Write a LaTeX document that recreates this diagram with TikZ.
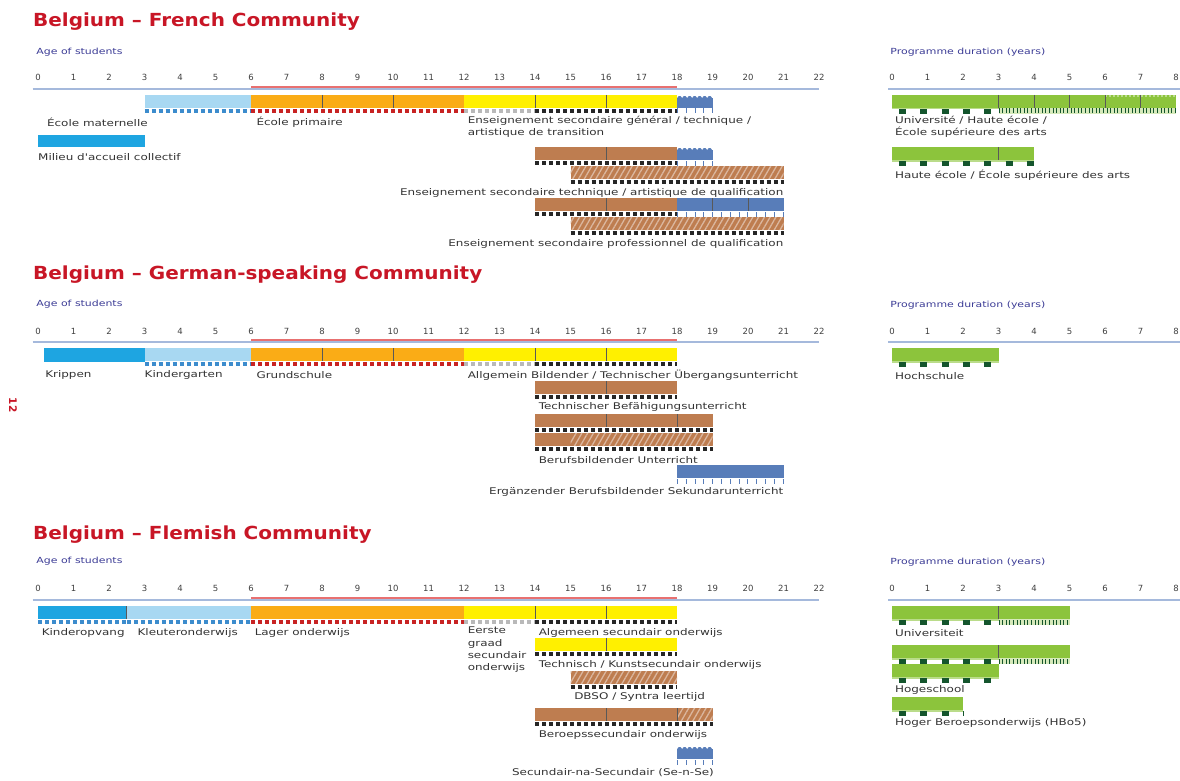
\documentclass[tikz,border=0pt]{standalone}
\usepackage{fontspec}
\setmainfont{DejaVu Sans}
\newfontfamily\lblfont[FakeStretch=1.3]{DejaVu Sans}
\newfontfamily\ttlfont[FakeStretch=1.11]{DejaVu Sans}
\usetikzlibrary{patterns.meta}

\definecolor{titlered}{RGB}{200,22,38}
\definecolor{axblue}{RGB}{60,60,150}
\definecolor{axline}{RGB}{165,185,220}
\definecolor{axred}{RGB}{232,112,112}
\definecolor{cribblue}{RGB}{30,165,225}
\definecolor{kgblue}{RGB}{168,216,242}
\definecolor{kgsq}{RGB}{60,140,205}
\definecolor{primorange}{RGB}{250,172,22}
\definecolor{primsq}{RGB}{200,35,35}
\definecolor{secyellow}{RGB}{255,240,0}
\definecolor{vocbrown}{RGB}{190,125,80}
\definecolor{postblue}{RGB}{88,125,185}
\definecolor{unigreen}{RGB}{140,196,60}
\definecolor{darkgreen}{RGB}{20,85,45}

% bar body, strips (x1, x2, top y, colour)
\newcommand{\barbody}[4]{\fill[#4] (#1,#3) rectangle (#2,#3+13);}
\newcommand{\hatchbody}[4]{\fill[#4] (#1,#3) rectangle (#2,#3+13);
  \fill[pattern={Lines[angle=60,distance=5pt,line width=1.3pt]}, pattern color=#4!55!white]
    (#1,#3) rectangle (#2,#3+13);}
\newcommand{\postbody}[3]{\fill[postblue] (#1,#3+3) rectangle (#2,#3+13);
  \draw[postblue, line width=3.5pt, line cap=round, dash pattern=on 1.2pt off 3.8pt]
    ([xshift=2pt]#1,#3+2.5) -- ([xshift=-2pt]#2,#3+2.5);}
\newcommand{\sqstrip}[4]{\fill[white] (#1,#3+13) rectangle (#2,#3+19);
  \draw[#4, line width=4.5pt, dash pattern=on 4pt off 3pt] (#1,#3+16) -- (#2,#3+16);}
\newcommand{\tkstrip}[4]{\fill[white] (#1,#3+13) rectangle (#2,#3+19);
  \draw[#4, line width=5pt, dash pattern=on 0.9pt off 7.9pt] (#1,#3+16) -- (#2,#3+16);}
\newcommand{\gsqstrip}[3]{\fill[white] (#1,#3+13) rectangle (#2,#3+19);
  \fill[unigreen!60!white] (#1,#3+13) rectangle (#2,#3+14.5);
  \draw[darkgreen, line width=5pt, dash pattern=on 7pt off 14.3pt, dash phase=-7pt]
    (#1,#3+16.3) -- (#2,#3+16.3);}
\newcommand{\gtkstrip}[3]{\fill[unigreen!35!white] (#1,#3+13) rectangle (#2,#3+19);
  \draw[darkgreen, line width=5pt, dash pattern=on 1pt off 2.6pt] (#1,#3+16) -- (#2,#3+16);}

\begin{document}
\begin{tikzpicture}[x=1pt, y=-1pt,
    title/.style={font=\ttlfont\fontsize{18}{20}\selectfont\bfseries, text=titlered, anchor=west, inner sep=0},
    axlab/.style={font=\lblfont\fontsize{8.4}{9}\selectfont, text=axblue, anchor=west, inner sep=0},
    num/.style={font=\fontsize{8.5}{9}\selectfont, text=black!75, inner sep=0},
    lbl/.style={font=\lblfont\fontsize{9.2}{12.3}\selectfont, text=black!80, anchor=west, inner sep=0, align=left},
    axl/.style={axline, line width=1.2pt},
    axr/.style={axred, line width=1.6pt},
    divl/.style={black!65, line width=0.6pt},
  ]
  \useasboundingbox (0,0) rectangle (1180,781);
  \fill[white] (0,0) rectangle (1180,781);

  \node[rotate=-90, text=titlered, font=\bfseries\fontsize{10.5}{11}\selectfont] (pgno) at (13,405) {12};

  % ===== French Community =====
  \node[title] (frtitle) at (33,22) {Belgium – French Community};
  \begin{scope}[xshift=38pt, x=35.5pt]
    \node[axlab] (frage) at (-0.05,52) {Age of students};
    \foreach \n in {0,...,22} \node[num] (frn\n) at (\n,77) {\n};
    \draw[axl] (-0.15,89) -- (22,89);
    \draw[axr] (6,87) -- (18,87);
    % main row
    \barbody{3}{6}{95}{kgblue} \sqstrip{3}{6}{95}{kgsq}
    \barbody{6}{12}{95}{primorange} \sqstrip{6}{12}{95}{primsq}
    \barbody{12}{18}{95}{secyellow} \sqstrip{12}{14}{95}{gray!55} \sqstrip{14}{18}{95}{black!85}
    \postbody{18}{19}{95} \tkstrip{18}{19}{95}{postblue}
    \draw[divl] (8,95) -- (8,108) (10,95) -- (10,108) (14,95) -- (14,108) (16,95) -- (16,108);
    \node[lbl] (frmat) at (0.25,122) {École maternelle};
    \node[lbl] (frprim) at (6.15,122) {École primaire};
    \node[lbl, anchor=north west] (frgen) at (12.1,116) {Enseignement secondaire général / technique /\\artistique de transition};
    \fill[cribblue] (0,135) rectangle (3,147);
    \node[lbl] (frmil) at (0,157) {Milieu d'accueil collectif};
    % technical / artistic
    \barbody{14}{18}{147}{vocbrown} \sqstrip{14}{18}{147}{black!85}
    \postbody{18}{19}{147} \tkstrip{18}{19}{147}{postblue}
    \draw[divl] (16,147) -- (16,160);
    \hatchbody{15}{21}{166}{vocbrown} \sqstrip{15}{21}{166}{black!85}
    \node[lbl, anchor=east] (frtech) at (21,193) {Enseignement secondaire technique / artistique de qualification};
    % vocational
    \barbody{14}{18}{198}{vocbrown} \sqstrip{14}{18}{198}{black!85}
    \barbody{18}{21}{198}{postblue} \tkstrip{18}{21}{198}{postblue}
    \draw[divl] (16,198) -- (16,211) (19,198) -- (19,211) (20,198) -- (20,211);
    \hatchbody{15}{21}{217}{vocbrown} \sqstrip{15}{21}{217}{black!85}
    \node[lbl, anchor=east] (frprof) at (21,244) {Enseignement secondaire professionnel de qualification};
  \end{scope}
  \begin{scope}[xshift=892pt, x=35.5pt]
    \node[axlab] (frdur) at (-0.05,52) {Programme duration (years)};
    \foreach \n in {0,...,8} \node[num] (frd\n) at (\n,77) {\n};
    \draw[axl] (-0.1,89) -- (8.1,89);
    \barbody{0}{8}{95}{unigreen}
    \draw[unigreen!60!white, line width=1.2pt, dash pattern=on 2pt off 2pt] (6,96) -- (8,96);
    \draw[divl] (3,95) -- (3,108) (4,95) -- (4,108) (5,95) -- (5,108) (6,95) -- (6,108) (7,95) -- (7,108);
    \gsqstrip{0}{3}{95} \gtkstrip{3}{8}{95}
    \node[lbl, anchor=north west] (fruni) at (0.08,116) {Université / Haute école /\\École supérieure des arts};
    \barbody{0}{4}{147}{unigreen} \draw[divl] (3,147) -- (3,160);
    \gsqstrip{0}{4}{147}
    \node[lbl] (frhe) at (0.08,175) {Haute école / École supérieure des arts};
  \end{scope}

  % ===== German-speaking Community =====
  \node[title] (detitle) at (33,275) {Belgium – German-speaking Community};
  \begin{scope}[xshift=38pt, x=35.5pt]
    \node[axlab] (deage) at (-0.05,304) {Age of students};
    \foreach \n in {0,...,22} \node[num] (den\n) at (\n,331) {\n};
    \draw[axl] (-0.15,342) -- (22,342);
    \draw[axr] (6,340) -- (18,340);
    % main row
    \fill[cribblue] (0.17,348) rectangle (3,362);
    \barbody{3}{6}{348}{kgblue} \sqstrip{3}{6}{348}{kgsq}
    \barbody{6}{12}{348}{primorange} \sqstrip{6}{12}{348}{primsq}
    \barbody{12}{18}{348}{secyellow} \sqstrip{12}{14}{348}{gray!55} \sqstrip{14}{18}{348}{black!85}
    \draw[divl] (8,348) -- (8,361) (10,348) -- (10,361) (14,348) -- (14,361) (16,348) -- (16,361);
    \node[lbl] (dekrip) at (0.2,375) {Krippen};
    \node[lbl] (dekg) at (3,375) {Kindergarten};
    \node[lbl] (degrund) at (6.15,375) {Grundschule};
    \node[lbl] (deallg) at (12.1,375) {Allgemein Bildender / Technischer Übergangsunterricht};
    % technical
    \barbody{14}{18}{381}{vocbrown} \sqstrip{14}{18}{381}{black!85}
    \draw[divl] (16,381) -- (16,394);
    \node[lbl] (detech) at (14.1,407) {Technischer Befähigungsunterricht};
    % vocational
    \barbody{14}{19}{414}{vocbrown} \sqstrip{14}{19}{414}{black!85}
    \draw[divl] (16,414) -- (16,427) (18,414) -- (18,427);
    \barbody{14}{15}{433}{vocbrown} \hatchbody{15}{19}{433}{vocbrown} \sqstrip{14}{19}{433}{black!85}
    \node[lbl] (deberuf) at (14.1,460) {Berufsbildender Unterricht};
    \barbody{18}{21}{465}{postblue} \tkstrip{18}{21}{465}{postblue}
    \node[lbl, anchor=east] (deerg) at (21,492) {Ergänzender Berufsbildender Sekundarunterricht};
  \end{scope}
  \begin{scope}[xshift=892pt, x=35.5pt]
    \node[axlab] (dedur) at (-0.05,305) {Programme duration (years)};
    \foreach \n in {0,...,8} \node[num] (ded\n) at (\n,331) {\n};
    \draw[axl] (-0.1,342) -- (8.1,342);
    \barbody{0}{3}{348}{unigreen} \gsqstrip{0}{3}{348}
    \node[lbl] (dehoch) at (0.08,376) {Hochschule};
  \end{scope}

  % ===== Flemish Community =====
  \node[title] (fltitle) at (33,535) {Belgium – Flemish Community};
  \begin{scope}[xshift=38pt, x=35.5pt]
    \node[axlab] (flage) at (-0.05,561) {Age of students};
    \foreach \n in {0,...,22} \node[num] (fln\n) at (\n,588) {\n};
    \draw[axl] (-0.15,600) -- (22,600);
    \draw[axr] (6,598) -- (18,598);
    % main row
    \barbody{0}{2.5}{606}{cribblue} \sqstrip{0}{2.5}{606}{kgsq}
    \barbody{2.5}{6}{606}{kgblue} \sqstrip{2.5}{6}{606}{kgsq}
    \barbody{6}{12}{606}{primorange} \sqstrip{6}{12}{606}{primsq}
    \barbody{12}{18}{606}{secyellow} \sqstrip{12}{14}{606}{gray!55} \sqstrip{14}{18}{606}{black!85}
    \draw[divl] (2.5,606) -- (2.5,619) (14,606) -- (14,619) (16,606) -- (16,619);
    \node[lbl] (flopv) at (0.1,633) {Kinderopvang};
    \node[lbl] (flkleu) at (2.8,633) {Kleuteronderwijs};
    \node[lbl] (fllag) at (6.1,633) {Lager onderwijs};
    \node[lbl, anchor=north west] (fleers) at (12.1,627) {Eerste\\graad\\secundair\\onderwijs};
    \node[lbl] (flalg) at (14.1,633) {Algemeen secundair onderwijs};
    % technical / arts
    \barbody{14}{18}{638}{secyellow} \sqstrip{14}{18}{638}{black!85}
    \draw[divl] (16,638) -- (16,651);
    \node[lbl] (fltech) at (14.1,665) {Technisch / Kunstsecundair onderwijs};
    % part-time
    \hatchbody{15}{18}{671}{vocbrown} \sqstrip{15}{18}{671}{black!85}
    \node[lbl] (fldbso) at (15.1,697) {DBSO / Syntra leertijd};
    % vocational
    \barbody{14}{18}{708}{vocbrown} \hatchbody{18}{19}{708}{vocbrown} \sqstrip{14}{19}{708}{black!85}
    \draw[divl] (16,708) -- (16,721) (18,708) -- (18,721);
    \node[lbl] (flber) at (14.1,735) {Beroepssecundair onderwijs};
    \postbody{18}{19}{746} \tkstrip{18}{19}{746}{postblue}
    \node[lbl] (flsens) at (13.35,773) {Secundair-na-Secundair (Se-n-Se)};
  \end{scope}
  \begin{scope}[xshift=892pt, x=35.5pt]
    \node[axlab] (fldur) at (-0.05,562) {Programme duration (years)};
    \foreach \n in {0,...,8} \node[num] (fld\n) at (\n,588) {\n};
    \draw[axl] (-0.1,600) -- (8.1,600);
    \barbody{0}{5}{606}{unigreen} \draw[divl] (3,606) -- (3,619);
    \gsqstrip{0}{3}{606} \gtkstrip{3}{5}{606}
    \node[lbl] (fluni) at (0.08,633) {Universiteit};
    \barbody{0}{5}{645}{unigreen} \draw[divl] (3,645) -- (3,658);
    \gsqstrip{0}{3}{645} \gtkstrip{3}{5}{645}
    \barbody{0}{3}{664}{unigreen} \gsqstrip{0}{3}{664}
    \node[lbl] (flhog) at (0.08,690) {Hogeschool};
    \barbody{0}{2}{697}{unigreen} \gsqstrip{0}{2}{697}
    \node[lbl] (flhbo) at (0.08,723) {Hoger Beroepsonderwijs (HBo5)};
  \end{scope}
\end{tikzpicture}
\end{document}
